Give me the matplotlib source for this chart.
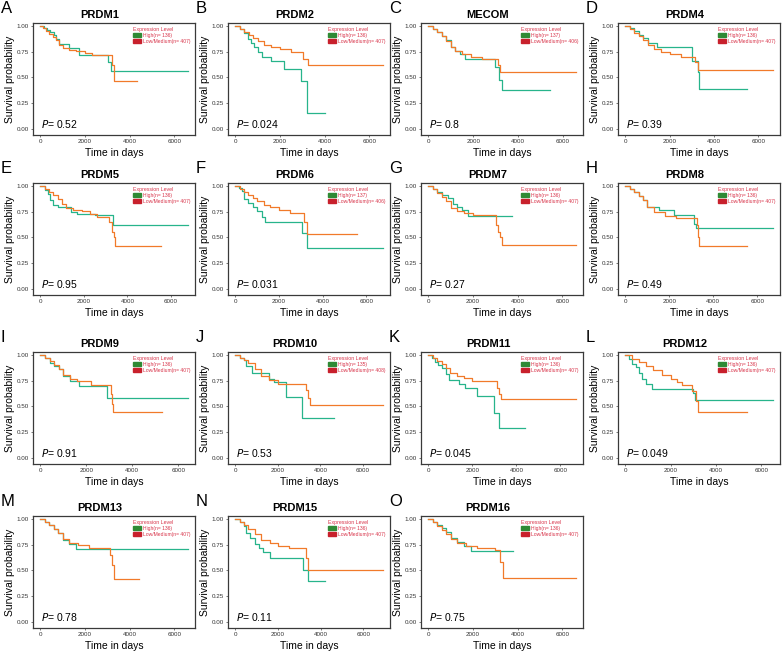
import matplotlib
matplotlib.use("Agg")
import matplotlib.pyplot as plt
from matplotlib.patches import Patch

plt.rcParams["font.family"] = ["Liberation Sans", "DejaVu Sans"]

genes = ["PRDM1", "PRDM2", "MECOM", "PRDM4", "PRDM5", "PRDM6", "PRDM7", "PRDM8",
         "PRDM9", "PRDM10", "PRDM11", "PRDM12", "PRDM13", "PRDM15", "PRDM16"]
letters = list("ABCDEFGHIJKLMNO")
p_values = ["0.52", "0.024", "0.8", "0.39", "0.95", "0.031", "0.27", "0.49",
            "0.91", "0.53", "0.045", "0.049", "0.78", "0.11", "0.75"]
n_high = [136, 136, 137, 136, 136, 137, 136, 136, 136, 135, 136, 136, 136, 136, 136]
n_low = [407, 407, 406, 407, 407, 406, 407, 407, 407, 408, 407, 407, 407, 407, 407]

# Kaplan-Meier steps (time in days, survival)
high_times = [
    [0, 150, 300, 450, 600, 700, 850, 1300, 1750, 3050, 3150, 6600],
    [0, 200, 400, 550, 700, 850, 1000, 1200, 1600, 2200, 2920, 3200, 3230, 4000],
    [0, 200, 400, 600, 800, 1000, 1200, 1400, 1650, 2950, 3150, 3260, 5400],
    [0, 200, 400, 600, 800, 1000, 1440, 3000, 3260, 3330, 5480],
    [0, 200, 350, 450, 600, 800, 1430, 1700, 2500, 3340, 6770],
    [0, 150, 300, 400, 600, 800, 1000, 1200, 1380, 3040, 3290, 6750],
    [0, 200, 400, 600, 900, 1100, 1300, 1500, 1760, 3750],
    [0, 200, 400, 600, 800, 1000, 1550, 2230, 3130, 3200, 6700],
    [0, 200, 400, 600, 800, 1000, 1300, 1700, 2880, 6410],
    [0, 200, 400, 500, 800, 1600, 1800, 2370, 3140, 4620],
    [0, 150, 300, 450, 600, 800, 925, 1400, 1670, 2210, 2990, 3210, 4400],
    [0, 150, 300, 450, 600, 750, 900, 1170, 2990, 3070, 6500],
    [0, 200, 400, 600, 800, 1000, 1300, 1600, 6600],
    [0, 200, 400, 500, 700, 900, 1100, 1300, 1600, 3150, 3400, 4200],
    [0, 200, 400, 600, 800, 1000, 1300, 1600, 1900, 3800],
]
high_surv = [
    [1, 0.98, 0.96, 0.94, 0.91, 0.87, 0.83, 0.79, 0.72, 0.65, 0.56, 0.56],
    [1, 0.97, 0.93, 0.87, 0.84, 0.80, 0.75, 0.70, 0.66, 0.58, 0.47, 0.31, 0.15, 0.15],
    [1, 0.97, 0.94, 0.90, 0.86, 0.80, 0.76, 0.73, 0.68, 0.60, 0.48, 0.38, 0.38],
    [1, 0.98, 0.95, 0.91, 0.88, 0.84, 0.80, 0.66, 0.55, 0.39, 0.39],
    [1, 0.96, 0.92, 0.86, 0.82, 0.80, 0.75, 0.73, 0.72, 0.62, 0.62],
    [1, 0.98, 0.95, 0.87, 0.84, 0.80, 0.76, 0.70, 0.65, 0.54, 0.40, 0.40],
    [1, 0.97, 0.94, 0.91, 0.88, 0.83, 0.80, 0.77, 0.71, 0.71],
    [1, 0.97, 0.94, 0.90, 0.86, 0.80, 0.77, 0.72, 0.63, 0.59, 0.59],
    [1, 0.97, 0.92, 0.89, 0.86, 0.80, 0.75, 0.70, 0.58, 0.58],
    [1, 0.97, 0.95, 0.89, 0.83, 0.77, 0.74, 0.59, 0.39, 0.39],
    [1, 0.97, 0.93, 0.90, 0.87, 0.82, 0.76, 0.72, 0.68, 0.60, 0.44, 0.29, 0.29],
    [1, 0.96, 0.91, 0.88, 0.83, 0.77, 0.72, 0.67, 0.63, 0.56, 0.56],
    [1, 0.97, 0.94, 0.90, 0.86, 0.80, 0.76, 0.71, 0.71],
    [1, 0.97, 0.93, 0.86, 0.82, 0.76, 0.72, 0.68, 0.62, 0.50, 0.40, 0.40],
    [1, 0.97, 0.94, 0.91, 0.87, 0.82, 0.78, 0.74, 0.69, 0.69],
]
low_times = [
    [0, 100, 250, 400, 550, 700, 850, 1000, 1300, 1600, 2000, 2300, 3200, 3280, 4350],
    [0, 200, 400, 600, 800, 1000, 1300, 1600, 2000, 2500, 3040, 3260, 6600],
    [0, 200, 400, 600, 800, 1000, 1200, 1500, 1900, 2400, 3100, 3190, 6560],
    [0, 200, 400, 600, 800, 1000, 1300, 1600, 2000, 2500, 3150, 3260, 6640],
    [0, 200, 400, 600, 800, 1000, 1200, 1500, 1900, 2300, 2600, 3150, 3300, 3400, 3450, 5530],
    [0, 200, 400, 600, 800, 1000, 1300, 1600, 2000, 2500, 3150, 3300, 5560],
    [0, 200, 400, 600, 800, 1000, 1300, 1600, 2000, 3010, 3100, 3200, 3280, 6590],
    [0, 200, 400, 600, 800, 1000, 1300, 1800, 2300, 3250, 3300, 3350, 5530],
    [0, 200, 400, 600, 800, 1000, 1300, 1600, 2200, 3060, 3130, 3180, 5290],
    [0, 200, 400, 600, 900, 1200, 1600, 2000, 3340, 3420, 3490, 6920],
    [0, 200, 400, 600, 800, 1000, 1300, 1600, 2000, 3130, 3220, 3310, 6690],
    [0, 300, 600, 900, 1200, 1600, 2000, 2300, 2500, 2920, 3100, 3210, 5360],
    [0, 200, 400, 600, 800, 1000, 1300, 1700, 2200, 3100, 3200, 3300, 4400],
    [0, 200, 400, 600, 900, 1200, 1600, 2000, 2500, 3300, 3400, 6900],
    [0, 200, 400, 600, 800, 1000, 1300, 1700, 2200, 3000, 3200, 3350, 6600],
]
low_surv = [
    [1, 0.98, 0.95, 0.92, 0.89, 0.86, 0.82, 0.79, 0.77, 0.76, 0.74, 0.72, 0.62, 0.47, 0.47],
    [1, 0.97, 0.94, 0.91, 0.88, 0.85, 0.82, 0.80, 0.78, 0.75, 0.68, 0.62, 0.62],
    [1, 0.97, 0.94, 0.90, 0.85, 0.80, 0.76, 0.73, 0.70, 0.68, 0.62, 0.55, 0.55],
    [1, 0.97, 0.93, 0.90, 0.86, 0.82, 0.78, 0.75, 0.73, 0.70, 0.65, 0.57, 0.57],
    [1, 0.97, 0.94, 0.91, 0.87, 0.83, 0.79, 0.77, 0.76, 0.73, 0.70, 0.65, 0.55, 0.50, 0.42, 0.42],
    [1, 0.97, 0.94, 0.91, 0.88, 0.85, 0.82, 0.80, 0.77, 0.74, 0.65, 0.53, 0.53],
    [1, 0.97, 0.93, 0.89, 0.85, 0.79, 0.76, 0.74, 0.72, 0.62, 0.55, 0.50, 0.43, 0.43],
    [1, 0.97, 0.94, 0.90, 0.86, 0.80, 0.75, 0.71, 0.69, 0.62, 0.50, 0.42, 0.42],
    [1, 0.97, 0.94, 0.90, 0.86, 0.81, 0.77, 0.75, 0.71, 0.62, 0.52, 0.45, 0.45],
    [1, 0.97, 0.95, 0.92, 0.86, 0.80, 0.76, 0.72, 0.66, 0.58, 0.51, 0.51],
    [1, 0.97, 0.94, 0.91, 0.87, 0.83, 0.80, 0.78, 0.75, 0.68, 0.62, 0.57, 0.57],
    [1, 0.96, 0.93, 0.89, 0.85, 0.81, 0.77, 0.74, 0.71, 0.65, 0.55, 0.45, 0.45],
    [1, 0.97, 0.94, 0.90, 0.86, 0.81, 0.77, 0.75, 0.72, 0.65, 0.55, 0.42, 0.42],
    [1, 0.97, 0.94, 0.90, 0.85, 0.80, 0.77, 0.74, 0.72, 0.62, 0.50, 0.50],
    [1, 0.97, 0.93, 0.89, 0.85, 0.81, 0.77, 0.74, 0.72, 0.70, 0.58, 0.43, 0.43],
]

HIGH_COLOR = "#27b48b"
LOW_COLOR = "#f17a2a"
W, H = 783, 659
col_left = [33, 228, 421, 618]
row_top = [23, 183, 352, 516]
ax_w, ax_h = 162, 112

fig = plt.figure(figsize=(W / 100, H / 100), dpi=100)

for i, gene in enumerate(genes):
    r, c = divmod(i, 4)
    left, top = col_left[c], row_top[r]
    ax = fig.add_axes([left / W, 1 - (top + ax_h) / H, ax_w / W, ax_h / H])

    ax.step(high_times[i], high_surv[i], where="post", color=HIGH_COLOR, lw=0.9)
    ax.step(low_times[i], low_surv[i], where="post", color=LOW_COLOR, lw=0.9)

    tmax = max(high_times[i][-1], low_times[i][-1])
    ax.set_xlim(-0.05 * tmax, 1.05 * tmax)
    ax.set_ylim(-0.06, 1.03)
    ax.set_xticks([0, 2000, 4000, 6000])
    ax.set_yticks([0, 0.25, 0.5, 0.75, 1.0])
    ax.set_yticklabels(["0.00", "0.25", "0.50", "0.75", "1.00"])
    ax.tick_params(labelsize=4.5, length=1.5, width=0.5, pad=1.5,
                   colors="#444444", labelcolor="#333333")
    for sp in ax.spines.values():
        sp.set_color("#3a3a3a")
        sp.set_linewidth(0.9)

    ax.set_xlabel("Time in days", fontsize=7.5)
    ax.set_ylabel("Survival probability", fontsize=7.5)
    ax.xaxis.set_label_coords(0.5, -13 / ax_h)
    ax.yaxis.set_label_coords(-18 / ax_w, 0.5)

    ax.text(0.05, 0.1, "$P$= " + p_values[i], transform=ax.transAxes,
            fontsize=7.5, va="center", ha="left")

    handles = [Patch(color="#2f8a35", label=f"High(n= {n_high[i]})"),
               Patch(color="#c8202c", label=f"Low/Medium(n= {n_low[i]})")]
    leg = ax.legend(handles=handles, title="Expression Level", loc="upper left",
                    bbox_to_anchor=(0.6, 0.99), frameon=False, fontsize=3.6,
                    title_fontsize=3.8, labelcolor="#d8344a", handlelength=1.6,
                    handleheight=0.8, handletextpad=0.3, labelspacing=0.15,
                    borderpad=0.1, alignment="left")
    leg.get_title().set_color("#d8344a")

    # title, centred over the whole plot incl. axis labels
    fig.text((left + ax_w / 2 - 14) / W, 1 - (top - 8) / H, gene, fontsize=8,
             fontweight="bold", ha="center", va="center")
    fig.text((left - 32) / W, 1 - (top - 22) / H, letters[i], fontsize=12,
             ha="left", va="top")

fig.savefig("out.png", dpi=100)
